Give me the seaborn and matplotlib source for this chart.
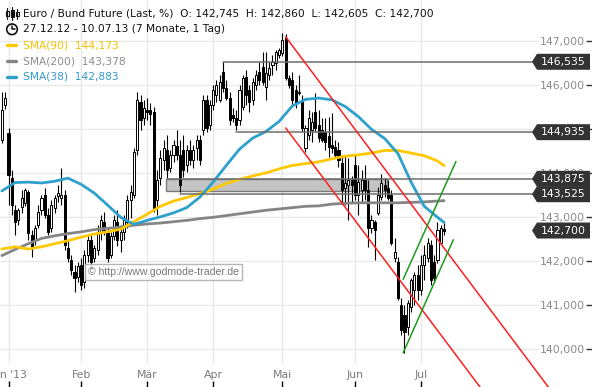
import matplotlib
matplotlib.use("Agg")
import matplotlib.pyplot as plt
import matplotlib.transforms as mtransforms
from matplotlib.patches import Polygon, Rectangle, Circle
from matplotlib.lines import Line2D
import numpy as np
import pandas as pd
import seaborn as sns

# trading days 27.12.12 - 10.07.13 (Eurex holidays removed)
holidays = ["2012-12-31", "2013-01-01", "2013-03-29", "2013-04-01", "2013-05-01"]
dates = pd.bdate_range("2012-12-27", "2013-07-10")
dates = dates[~dates.isin(pd.to_datetime(holidays))]

month_labels = ["Jan '13", "Feb", "Mär", "Apr", "Mai", "Jun", "Jul"]

OPEN = [
    144.76, 145.55, 144.92, 143.89, 143.17, 142.94, 143.24, 143.33, 143.58, 142.60,
    142.48, 142.83, 143.17, 143.51, 143.05, 142.76, 143.21, 143.49, 143.44, 143.51,
    142.30, 142.03, 141.76, 141.64, 141.92, 141.53, 142.14, 142.48, 142.08, 142.26,
    142.67, 142.89, 142.67, 142.14, 142.58, 142.89, 142.48, 142.67, 142.89, 143.39,
    143.51, 144.53, 145.62, 145.26, 145.44, 145.44, 145.39, 143.39, 143.89, 144.30,
    144.53, 144.12, 144.42, 144.62, 144.42, 144.53, 144.19, 144.53, 144.30, 144.58,
    144.76, 144.98, 145.67, 145.10, 145.55, 145.78, 145.67, 146.30, 145.94, 145.71,
    145.33, 145.26, 145.21, 145.51, 146.19, 145.89, 145.67, 146.01, 146.30, 146.42,
    145.96, 146.24, 146.46, 146.51, 146.69, 146.74, 147.08, 146.17, 146.12, 145.89,
    145.83, 145.67, 144.58, 144.87, 144.98, 145.39, 145.10, 144.98, 144.94, 144.85,
    144.64, 144.60, 144.53, 144.23, 143.67, 143.73, 143.85, 144.19, 143.51, 143.62,
    143.85, 143.62, 142.76, 142.89, 143.10, 143.46, 143.73, 143.67, 143.51, 142.08,
    141.98, 141.01, 140.78, 140.51, 140.96, 141.35, 141.69, 141.35, 141.92, 142.08,
    142.37, 141.98, 142.03, 142.42, 142.745]
HIGH = [
    145.85, 145.85, 145.03, 144.08, 143.28, 143.21, 143.62, 143.67, 143.62, 142.71,
    142.83, 143.28, 143.51, 143.67, 143.21, 143.39, 143.51, 143.73, 144.12, 143.62,
    142.48, 142.14, 141.92, 141.98, 142.08, 142.26, 142.60, 142.60, 142.37, 142.83,
    143.05, 143.12, 142.76, 142.67, 143.05, 143.17, 142.83, 143.05, 143.51, 143.73,
    144.58, 145.85, 145.78, 145.67, 145.71, 145.60, 145.50, 144.08, 144.53, 144.76,
    144.87, 144.53, 144.76, 144.98, 144.76, 144.87, 144.64, 144.76, 144.64, 144.87,
    144.87, 145.78, 145.78, 145.67, 146.01, 146.12, 146.24, 146.53, 146.12, 145.85,
    145.49, 145.44, 146.01, 146.24, 146.35, 146.01, 146.17, 146.35, 146.53, 146.76,
    146.76, 146.53, 146.69, 146.80, 146.85, 147.19, 147.17, 146.24, 146.30, 146.01,
    146.24, 145.78, 145.10, 145.44, 145.39, 145.83, 145.44, 145.26, 145.26, 145.28,
    145.37, 144.76, 144.71, 144.42, 144.42, 144.35, 143.94, 144.42, 144.19, 144.08,
    144.19, 143.85, 143.05, 142.94, 143.69, 143.98, 143.89, 143.85, 143.62, 142.53,
    142.10, 141.17, 141.01, 141.12, 141.62, 141.76, 141.92, 142.14, 142.37, 142.53,
    142.48, 142.14, 142.89, 142.83, 142.86]
LOW = [
    144.69, 145.46, 143.28, 143.05, 142.60, 142.83, 143.10, 143.26, 142.48, 142.10,
    142.37, 142.76, 143.05, 142.99, 142.60, 142.67, 143.10, 143.35, 143.28, 142.26,
    141.98, 141.69, 141.30, 141.53, 141.35, 141.39, 141.98, 141.85, 141.98, 142.14,
    142.48, 142.60, 141.98, 142.08, 142.48, 142.35, 142.21, 142.48, 142.76, 142.99,
    143.44, 144.42, 144.98, 145.10, 145.21, 145.10, 143.12, 143.05, 143.73, 144.08,
    143.89, 144.03, 144.26, 144.30, 143.58, 143.92, 144.03, 144.19, 144.12, 144.30,
    144.19, 144.87, 144.94, 144.98, 145.44, 145.62, 145.62, 145.85, 145.67, 145.10,
    145.17, 144.98, 145.10, 145.44, 145.55, 145.39, 145.55, 145.89, 146.01, 146.01,
    145.67, 146.12, 146.24, 146.35, 146.62, 146.67, 146.12, 145.94, 145.55, 145.49,
    145.78, 144.94, 144.49, 144.76, 144.71, 144.94, 144.71, 144.71, 144.53, 144.37,
    144.46, 144.35, 144.14, 143.35, 143.28, 142.94, 143.35, 143.39, 143.05, 143.35,
    143.39, 142.33, 142.64, 142.03, 143.05, 143.39, 143.46, 143.39, 142.37, 141.98,
    141.12, 140.33, 139.92, 140.33, 140.85, 141.01, 141.12, 141.23, 141.57, 141.98,
    141.46, 141.53, 141.96, 142.37, 142.605]
CLOSE = [
    145.44, 145.71, 143.96, 143.28, 142.89, 143.17, 143.44, 143.62, 142.64, 142.30,
    142.76, 143.12, 143.44, 143.05, 142.67, 143.28, 143.44, 143.55, 143.51, 142.37,
    142.08, 141.80, 141.62, 141.89, 141.46, 142.14, 142.48, 141.98, 142.30, 142.67,
    142.94, 142.71, 142.08, 142.58, 142.94, 142.48, 142.67, 142.94, 143.39, 143.58,
    144.49, 145.67, 145.21, 145.49, 145.39, 145.35, 143.20, 143.85, 144.35, 144.58,
    144.08, 144.42, 144.64, 144.42, 143.73, 144.08, 144.53, 144.30, 144.53, 144.76,
    144.30, 145.67, 145.03, 145.55, 145.89, 146.01, 146.08, 145.94, 145.71, 145.21,
    145.26, 145.10, 145.89, 146.17, 145.78, 145.62, 146.08, 146.24, 146.12, 146.08,
    146.28, 146.39, 146.53, 146.76, 146.80, 147.03, 146.17, 146.01, 145.67, 145.60,
    145.85, 145.03, 145.03, 145.26, 145.17, 145.03, 144.80, 144.76, 144.71, 144.60,
    144.58, 144.42, 144.30, 143.62, 143.78, 143.85, 143.73, 143.51, 143.80, 143.85,
    143.62, 142.76, 142.94, 142.71, 143.51, 143.78, 143.62, 143.44, 142.42, 142.21,
    141.17, 140.44, 140.40, 141.05, 141.57, 141.69, 141.35, 141.92, 142.14, 142.42,
    141.57, 141.62, 142.71, 142.76, 142.70]

# moving averages, read every 4th bar
SMA_IDX = [0, 4, 8, 12, 16, 20, 24, 28, 32, 36, 40, 44, 48, 52, 56, 60, 64, 68,
           72, 76, 80, 84, 88, 92, 96, 100, 104, 108, 112, 116, 120, 124, 128, 132, 134]
SMA90 = [142.28, 142.33, 142.28, 142.33, 142.40, 142.47, 142.55, 142.62, 142.67, 142.73,
         142.90, 143.07, 143.25, 143.37, 143.45, 143.54, 143.64, 143.77, 143.86, 143.94,
         144.01, 144.10, 144.18, 144.22, 144.26, 144.33, 144.39, 144.42, 144.46, 144.52,
         144.52, 144.46, 144.40, 144.28, 144.173]
SMA200 = [142.13, 142.27, 142.40, 142.52, 142.58, 142.63, 142.67, 142.72, 142.75, 142.78,
          142.82, 142.85, 142.87, 142.90, 142.93, 142.97, 143.00, 143.04, 143.08, 143.12,
          143.16, 143.19, 143.22, 143.25, 143.26, 143.30, 143.32, 143.33, 143.33, 143.33,
          143.33, 143.34, 143.35, 143.37, 143.378]
SMA38 = [143.60, 143.79, 143.80, 143.78, 143.82, 143.89, 143.75, 143.55, 143.28, 143.00,
         142.84, 142.93, 143.01, 143.10, 143.22, 143.46, 143.80, 144.18, 144.55, 144.80,
         144.95, 145.18, 145.53, 145.68, 145.71, 145.67, 145.52, 145.29, 145.00, 144.79,
         144.45, 143.80, 143.25, 143.00, 142.883]

# drawings
LEVELS = [146.535, 144.935, 143.875, 143.525]
LEVEL_START = [67, 71, 50, 54]
LAST_PRICE = 142.700
BAND_LOW, BAND_HIGH = 143.60, 143.875
BAND_BARS = (49.65, 116.7)
RED_UPPER = ([86, 166], [147.10, 139.10])
RED_LOWER = ([86, 146], [145.03, 139.03])
GREEN_UPPER = ([121.6, 137.6], [141.59, 144.27])
GREEN_LOWER = ([121.6, 136.8], [139.92, 142.49])

C_YELLOW = "#ffc800"
C_GRAY = "#858585"
C_BLUE = "#2ea0cc"

sns.set_style("white")
plt.rcParams["font.family"] = ["DejaVu Sans"]

W, H = 592, 387
fig = plt.figure(figsize=(W / 100, H / 100), dpi=100)
ax = fig.add_axes([0, 0, 1, 1])
for s in ax.spines.values():
    s.set_visible(False)

PX = 3.3      # pixels per bar
PPY = 44.0    # pixels per point
X0 = 2 - 8.5 / PX
YTOP = 147.939
ax.set_xlim(X0, X0 + W / PX)
ax.set_ylim(YTOP - H / PPY, YTOP)


def xd(px):
    return X0 + px / PX


def yd(py):
    return YTOP - py / PPY


o = np.array(OPEN); hi = np.array(HIGH); lo = np.array(LOW); c = np.array(CLOSE)
x = np.arange(len(dates))

# month ticks
month_first = pd.Series(x, index=dates).groupby(dates.to_period("M")).first()
month_idx = month_first.values[1:]  # skip december

# grid
yt = np.arange(140, 148)
ax.hlines(yt, xd(0), xd(538), color="#e8e8e8", lw=1, zorder=0)
ax.vlines(month_idx, yd(363), YTOP, color="#e8e8e8", lw=1, zorder=0)

# band
ax.add_patch(Rectangle((BAND_BARS[0], BAND_LOW), BAND_BARS[1] - BAND_BARS[0],
                       BAND_HIGH - BAND_LOW, facecolor="#c4c4c4", edgecolor="#7a7a7a",
                       lw=1, zorder=1))

# candles
up = c >= o
bottom = np.minimum(o, c)
height = np.maximum(np.abs(c - o), 0.025)
ax.vlines(x, lo, hi, color="black", lw=0.8, zorder=3)
ax.bar(x[up], height[up], bottom=bottom[up], width=0.62, facecolor="white",
       edgecolor="black", lw=0.7, zorder=4)
ax.bar(x[~up], height[~up], bottom=bottom[~up], width=0.62, facecolor="black",
       edgecolor="black", lw=0.7, zorder=4)

# moving averages
sns.lineplot(x=SMA_IDX, y=SMA200, ax=ax, color=C_GRAY, lw=2.0, zorder=5)
sns.lineplot(x=SMA_IDX, y=SMA90, ax=ax, color=C_YELLOW, lw=2.0, zorder=5)
sns.lineplot(x=SMA_IDX, y=SMA38, ax=ax, color=C_BLUE, lw=2.0, zorder=5)

# level lines
for lev, start in zip(LEVELS, LEVEL_START):
    ax.plot([start, xd(533)], [lev, lev], color="#6e6e6e", lw=1.1, zorder=6)

# channels
ax.plot(*RED_UPPER, color="#ff2020", lw=1.1, zorder=6)
ax.plot(*RED_LOWER, color="#ff2020", lw=1.1, zorder=6)
ax.plot(*GREEN_UPPER, color="#1f9a1f", lw=1.1, zorder=6)
ax.plot(*GREEN_LOWER, color="#1f9a1f", lw=1.1, zorder=6)

# axes ticks
ax.set_xticks(month_idx)
ax.set_xticklabels(month_labels)
ax.tick_params(axis="x", direction="in", length=4, width=1, color="black",
               labelcolor="#7a7a7a", labelsize=7.8, pad=-12.6, bottom=True, top=False)
ax.yaxis.tick_right()
ax.set_yticks(yt)
ax.set_yticklabels([f"{v:.3f}".replace(".", ",") for v in yt])
ax.tick_params(axis="y", direction="in", length=4, width=1, color="#333333",
               labelcolor="#8a8a8a", labelsize=7.8, pad=-5, right=True, left=False)
for lab in ax.get_yticklabels():
    lab.set_ha("right")
ax.set_xlabel("")
ax.set_ylabel("")

# price tags
blend = mtransforms.blended_transform_factory(fig.transFigure, ax.transData)
half = 8 / PPY
for lev in LEVELS + [LAST_PRICE]:
    pts = [(532 / W, lev), (537 / W, lev + half), (590 / W, lev + half),
           (590 / W, lev - half), (537 / W, lev - half)]
    ax.add_patch(Polygon(pts, closed=True, transform=blend, facecolor="#333333",
                         edgecolor="none", zorder=8, clip_on=False))
    ax.text(586 / W, lev, f"{lev:.3f}".replace(".", ","), transform=blend,
            color="white", fontsize=7.8, ha="right", va="center", zorder=9)


def fx(px):
    return px / W


def fy(py):
    return 1 - py / H


# header
fs = 7.7
fig.text(fx(23), fy(13.3), "Euro / Bund Future (Last, %)  O: 142,745  H: 142,860  "
         "L: 142,605  C: 142,700", fontsize=fs, color="#111111", va="center")
fig.text(fx(23), fy(29.3), "27.12.12 - 10.07.13 (7 Monate, 1 Tag)", fontsize=fs,
         color="#111111", va="center")
legend_rows = [("SMA(90)  144,173", C_YELLOW, "#f2c200", 45.0),
               ("SMA(200)  143,378", C_GRAY, "#8c8c8c", 61.0),
               ("SMA(38)  142,883", C_BLUE, "#3399cc", 76.7)]
for label, lc, tc, py in legend_rows:
    fig.add_artist(Line2D([fx(7), fx(16)], [fy(py), fy(py)], color=lc, lw=2.4,
                          transform=fig.transFigure))
    fig.text(fx(23), fy(py), label, fontsize=fs, color=tc, va="center")

# candlestick icon
for cx, y1, y2, b1, b2, filled in [(7, 8, 19, 11, 16, False), (12, 7, 20, 10, 17, True),
                                   (17, 9, 19, 12, 16, False)]:
    fig.add_artist(Line2D([fx(cx), fx(cx)], [fy(y1), fy(y2)], color="#111111", lw=0.8,
                          transform=fig.transFigure))
    fig.add_artist(Rectangle((fx(cx - 1.5), fy(b2)), fx(3), fy(b1) - fy(b2),
                             transform=fig.transFigure, facecolor="#111111" if filled else "white",
                             edgecolor="#111111", lw=0.8))

# clock icon
pix = mtransforms.IdentityTransform()
fig.add_artist(Circle((12, H - 29.3), 5.3, transform=pix, facecolor="none",
                      edgecolor="#111111", lw=1.2))
fig.add_artist(Line2D([12, 12, 15], [H - 25.5, H - 29.3, H - 29.3], color="#111111",
                      lw=1.1, transform=pix))

# watermark
fig.text(fx(88), fy(272), "\u00a9 http://www.godmode-trader.de", fontsize=7.6,
         family=["Liberation Sans", "DejaVu Sans"], color="#777777", va="center",
         bbox=dict(boxstyle="square,pad=0.25", facecolor="white", alpha=0.85,
                   edgecolor="#aaaaaa", lw=1))

fig.savefig("out.png", dpi=100)
